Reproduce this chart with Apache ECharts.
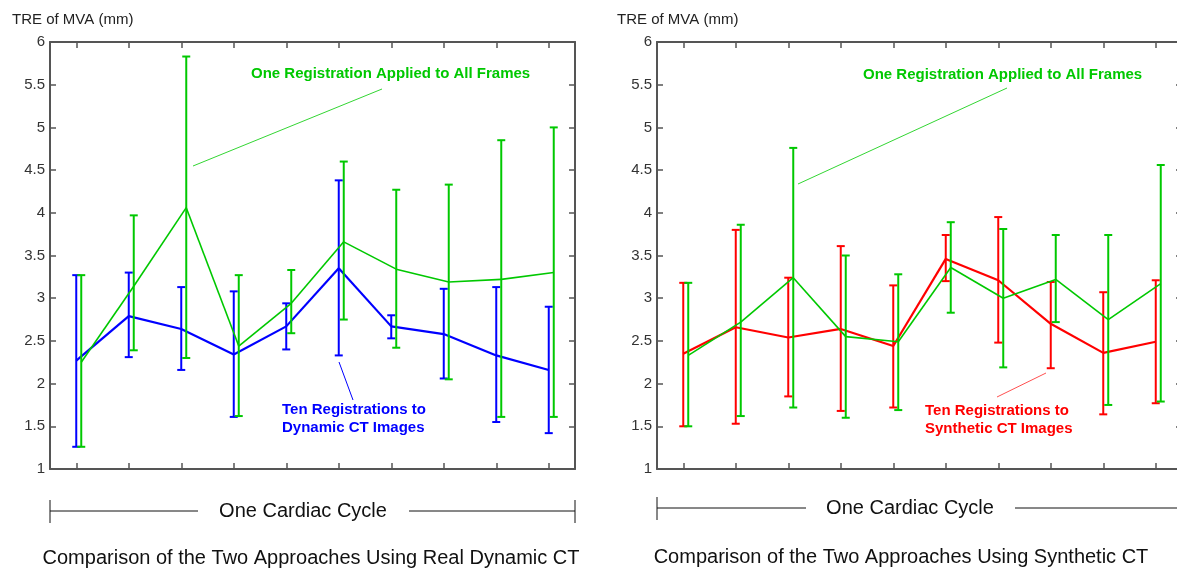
<!DOCTYPE html>
<html>
<head>
<meta charset="utf-8">
<style>
  html, body { margin: 0; padding: 0; background: #fff; overflow: hidden; }
  /* a little wider than the window: the right panel's box runs off the edge */
  #chart { width: 1190px; height: 571px; }
</style>
<script src="https://cdn.jsdelivr.net/npm/echarts@6.0.0/dist/echarts.min.js"></script>
</head>
<body>
<div id="chart"></div>
<script>
"use strict";

// Ten frames over one cardiac cycle
const FRAMES = ["1", "2", "3", "4", "5", "6", "7", "8", "9", "10"];

// Left panel: real dynamic CT
const REAL_TEN_MEAN = [2.27, 2.79, 2.64, 2.34, 2.67, 3.35, 2.67, 2.58, 2.33, 2.16];
const REAL_TEN_LOW  = [1.26, 2.31, 2.16, 1.61, 2.40, 2.33, 2.53, 2.06, 1.55, 1.42];
const REAL_TEN_HIGH = [3.27, 3.30, 3.13, 3.08, 2.94, 4.38, 2.80, 3.11, 3.13, 2.90];
const REAL_ONE_MEAN = [2.25, 3.14, 4.06, 2.44, 2.94, 3.66, 3.34, 3.19, 3.22, 3.30];
const REAL_ONE_LOW  = [1.26, 2.39, 2.30, 1.62, 2.59, 2.75, 2.42, 2.05, 1.61, 1.61];
const REAL_ONE_HIGH = [3.27, 3.97, 5.83, 3.27, 3.33, 4.60, 4.27, 4.33, 4.85, 5.00];

// Right panel: synthetic CT
const SYN_TEN_MEAN = [2.35, 2.66, 2.54, 2.64, 2.44, 3.46, 3.21, 2.70, 2.36, 2.49];
const SYN_TEN_LOW  = [1.50, 1.53, 1.85, 1.68, 1.72, 3.20, 2.48, 2.18, 1.64, 1.77];
const SYN_TEN_HIGH = [3.18, 3.80, 3.24, 3.61, 3.15, 3.74, 3.95, 3.19, 3.07, 3.21];
const SYN_ONE_MEAN = [2.33, 2.72, 3.24, 2.55, 2.49, 3.36, 3.00, 3.22, 2.75, 3.17];
const SYN_ONE_LOW  = [1.50, 1.62, 1.72, 1.60, 1.69, 2.83, 2.19, 2.72, 1.75, 1.79];
const SYN_ONE_HIGH = [3.18, 3.86, 4.76, 3.50, 3.28, 3.89, 3.81, 3.74, 3.74, 4.56];

const GREEN = "#00c800", BLUE = "#0000ff", RED = "#ff0000";
const AXIS_INK = "#555555", INK = "#111111";
const FONT = "'Liberation Sans', Arial, sans-serif";

// grid geometry (MATLAB-like boxed axes)
const GRIDS = [
  { left: 50, top: 42, width: 525, height: 427 },
  { left: 657, top: 42, width: 525, height: 427 },
];

function boxAxes(gi) {
  const line = { show: true, lineStyle: { color: AXIS_INK, width: 2 } };
  const tick = { show: true, inside: true, length: 6, alignWithLabel: true,
                 lineStyle: { color: AXIS_INK, width: 1.5 } };
  const xs = ["bottom", "top"].map((pos) => ({
    type: "category", gridIndex: gi, position: pos, data: FRAMES,
    boundaryGap: true, axisLine: line, axisTick: tick,
    axisLabel: { show: false }, splitLine: { show: false },
  }));
  const ys = ["left", "right"].map((pos) => ({
    type: "value", gridIndex: gi, position: pos, min: 1, max: 6, interval: 0.5,
    axisLine: line, axisTick: tick, splitLine: { show: false },
    axisLabel: { show: pos === "left", color: "#333", fontSize: 15,
                 fontFamily: FONT, margin: 5 },
  }));
  return { xs, ys };
}

// mean line + error bars, shifted sideways by dx pixels
function errorSeries(gi, mean, low, high, color, dx, lineW, z) {
  return {
    type: "custom",
    xAxisIndex: gi * 2, yAxisIndex: gi * 2,
    clip: false, z,
    data: mean.map((m, i) => [i, m, low[i], high[i]]),
    renderItem(params, api) {
      const i = api.value(0);
      const p = api.coord([i, api.value(1)]);
      const lo = api.coord([i, api.value(2)]);
      const hi = api.coord([i, api.value(3)]);
      const x = p[0] + dx;
      const st = { stroke: color, lineWidth: 2 };
      const kids = [
        { type: "line", shape: { x1: x, y1: hi[1], x2: x, y2: lo[1] }, style: st },
        { type: "line", shape: { x1: x - 4, y1: hi[1], x2: x + 4, y2: hi[1] }, style: st },
        { type: "line", shape: { x1: x - 4, y1: lo[1], x2: x + 4, y2: lo[1] }, style: st },
      ];
      if (i < mean.length - 1) {
        const q = api.coord([i + 1, mean[i + 1]]);
        kids.push({ type: "line", shape: { x1: x, y1: p[1], x2: q[0] + dx, y2: q[1] },
                    style: { stroke: color, lineWidth: lineW } });
      }
      return { type: "group", children: kids };
    },
  };
}

function text(str, x, y, color, size, weight, align) {
  return {
    type: "text", z: 100,
    style: { text: str, x, y, fill: color, fontSize: size, fontWeight: weight,
             fontFamily: FONT, align: align, textAlign: align,
             verticalAlign: "middle", textVerticalAlign: "middle", lineHeight: 18 },
  };
}
function seg(x1, y1, x2, y2, color, w) {
  return { type: "line", z: 100, shape: { x1, y1, x2, y2 },
           style: { stroke: color, lineWidth: w || 1 } };
}

const a0 = boxAxes(0), a1 = boxAxes(1);

const option = {
  animation: false,
  backgroundColor: "#fff",
  grid: GRIDS,
  xAxis: [...a0.xs, ...a1.xs],
  yAxis: [...a0.ys, ...a1.ys],
  series: [
    errorSeries(0, REAL_TEN_MEAN, REAL_TEN_LOW, REAL_TEN_HIGH, BLUE, 0, 2.2, 2),
    errorSeries(0, REAL_ONE_MEAN, REAL_ONE_LOW, REAL_ONE_HIGH, GREEN, 5, 1.6, 3),
    errorSeries(1, SYN_TEN_MEAN, SYN_TEN_LOW, SYN_TEN_HIGH, RED, 0, 2.2, 2),
    errorSeries(1, SYN_ONE_MEAN, SYN_ONE_LOW, SYN_ONE_HIGH, GREEN, 5, 1.6, 3),
  ],
  graphic: [
    // axis labels
    text("TRE of MVA (mm)", 12, 20, "#222", 15, "normal", "left"),
    text("TRE of MVA (mm)", 617, 20, "#222", 15, "normal", "left"),

    // left annotations
    text("One Registration Applied to All Frames", 251, 74, GREEN, 15, "bold", "left"),
    seg(193, 166, 382, 89, "#33d633"),
    text("Ten Registrations to\nDynamic CT Images", 282, 419, BLUE, 15, "bold", "left"),
    seg(339, 362, 353, 400, BLUE),

    // right annotations
    text("One Registration Applied to All Frames", 863, 75, GREEN, 15, "bold", "left"),
    seg(798, 184, 1007, 88, "#33d633"),
    text("Ten Registrations to\nSynthetic CT Images", 925, 420, RED, 15, "bold", "left"),
    seg(997, 397, 1046, 373, "#ff5050"),

    // cardiac cycle brackets
    seg(50, 511, 198, 511, INK), seg(409, 511, 575, 511, INK),
    seg(50, 500, 50, 523, INK), seg(575, 500, 575, 523, INK),
    text("One Cardiac Cycle", 303, 511, INK, 20, "normal", "center"),
    seg(657, 508, 806, 508, INK), seg(1015, 508, 1182, 508, INK),
    seg(657, 497, 657, 520, INK),
    text("One Cardiac Cycle", 910, 508, INK, 20, "normal", "center"),

    // panel captions
    text("Comparison of the Two Approaches Using Real Dynamic CT", 311, 558, INK, 20, "normal", "center"),
    text("Comparison of the Two Approaches Using Synthetic CT", 901, 557, INK, 20, "normal", "center"),
  ],
};

const chart = echarts.init(document.getElementById("chart"), null, { renderer: "canvas" });
chart.setOption(option);
</script>
</body>
</html>
